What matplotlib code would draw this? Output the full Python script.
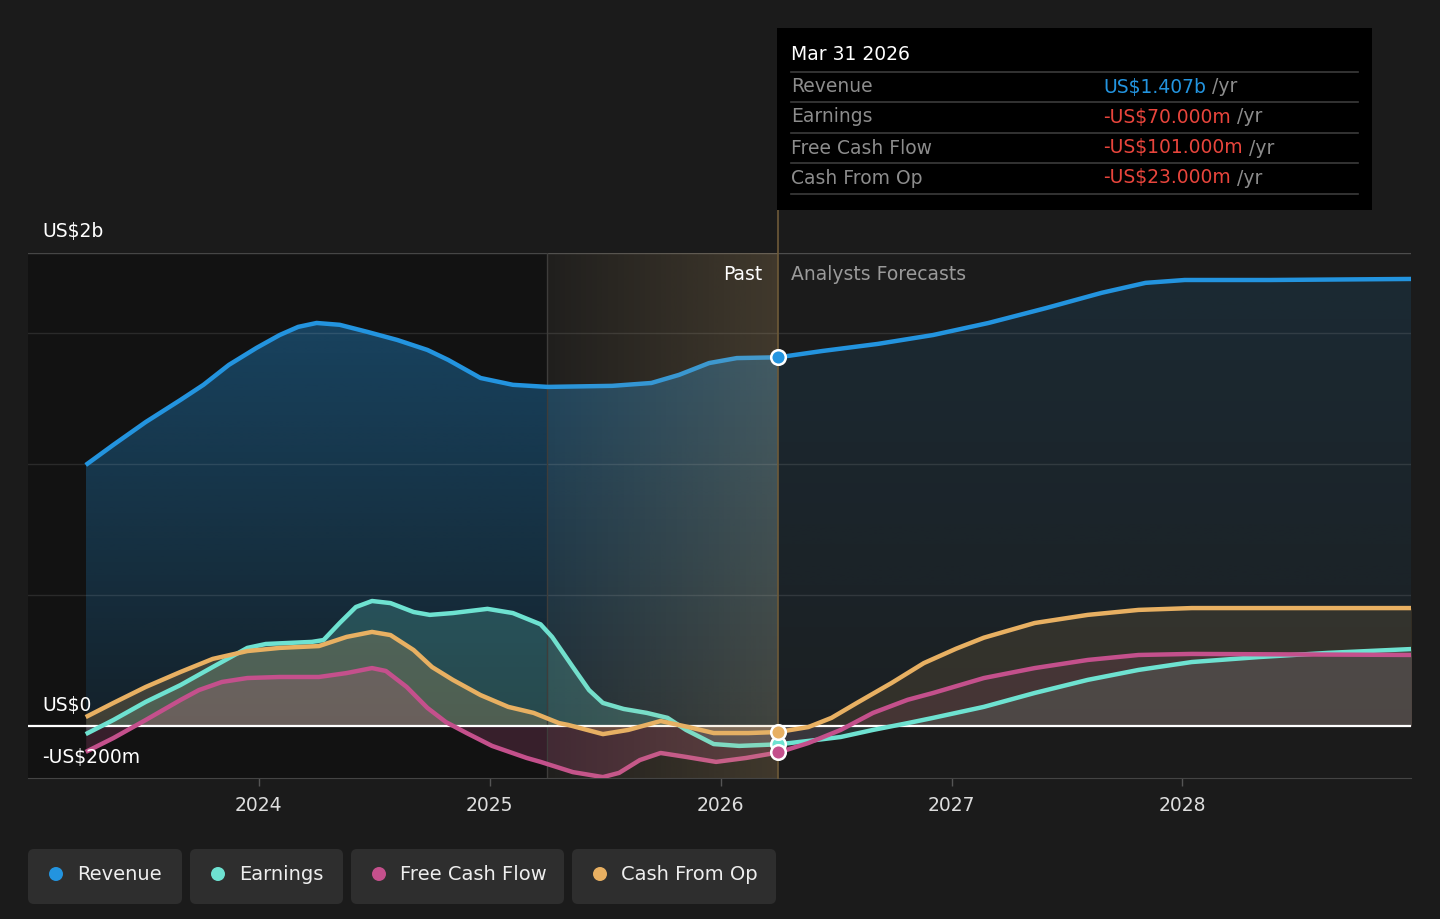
import numpy as np
import matplotlib.pyplot as plt
import matplotlib.colors as mcolors
from matplotlib.patches import FancyBboxPatch, Rectangle, Circle
from matplotlib.lines import Line2D
from matplotlib.transforms import IdentityTransform

### data, US$ m, x in decimal years
NOW = 2026.25

rev_x = [2023.25, 2023.37, 2023.51, 2023.66, 2023.76, 2023.87, 2023.99, 2024.09, 2024.17, 2024.25,
         2024.35, 2024.47, 2024.60, 2024.73, 2024.82, 2024.96, 2025.10, 2025.25, 2025.53, 2025.70,
         2025.82, 2025.95, 2026.07, 2026.25, 2026.44, 2026.68, 2026.92, 2027.16, 2027.41, 2027.65,
         2027.84, 2028.01, 2028.38, 2029.0]
rev_y = [996, 1073, 1160, 1244, 1302, 1378, 1443, 1492, 1523, 1538,
         1531, 1504, 1473, 1435, 1397, 1328, 1302, 1294, 1298, 1309,
         1340, 1385, 1404, 1407, 1431, 1458, 1492, 1538, 1595, 1653,
         1691, 1702, 1702, 1706]

earn_x = [2023.25, 2023.37, 2023.51, 2023.66, 2023.80, 2023.95, 2024.03, 2024.23, 2024.28, 2024.35,
          2024.42, 2024.49, 2024.57, 2024.67, 2024.74, 2024.84, 2024.99, 2025.10, 2025.22, 2025.27,
          2025.36, 2025.43, 2025.49, 2025.58, 2025.68, 2025.77, 2025.85, 2025.97, 2026.08, 2026.25,
          2026.38, 2026.52, 2026.66, 2026.81, 2026.92, 2027.14, 2027.36, 2027.59, 2027.81, 2028.04,
          2028.33, 2028.63, 2029.0]
earn_y = [-31, 23, 92, 156, 225, 298, 313, 321, 328, 393,
          454, 477, 469, 435, 424, 431, 447, 431, 388, 340,
          225, 137, 88, 65, 50, 31, -15, -69, -76, -70,
          -57, -42, -15, 11, 31, 73, 126, 176, 214, 244,
          263, 279, 294]

fcf_x = [2023.25, 2023.37, 2023.51, 2023.66, 2023.74, 2023.84, 2023.95, 2024.09, 2024.26, 2024.38,
         2024.49, 2024.55, 2024.64, 2024.73, 2024.81, 2024.90, 2025.01, 2025.16, 2025.22, 2025.36,
         2025.49, 2025.56, 2025.65, 2025.74, 2025.85, 2025.98, 2026.11, 2026.25, 2026.38, 2026.52,
         2026.66, 2026.81, 2026.92, 2027.14, 2027.36, 2027.59, 2027.81, 2028.04, 2029.0]
fcf_y = [-99, -46, 23, 99, 137, 168, 183, 187, 187, 202,
         221, 210, 149, 69, 15, -27, -76, -122, -137, -176,
         -195, -179, -130, -103, -118, -137, -122, -101, -65, -15,
         50, 100, 126, 183, 221, 252, 271, 275, 271]

cfo_x = [2023.25, 2023.37, 2023.51, 2023.66, 2023.80, 2023.95, 2024.09, 2024.26, 2024.38, 2024.49,
         2024.57, 2024.67, 2024.75, 2024.84, 2024.96, 2025.08, 2025.19, 2025.30, 2025.34, 2025.49,
         2025.60, 2025.74, 2025.86, 2025.97, 2026.12, 2026.25, 2026.38, 2026.48, 2026.59, 2026.74,
         2026.88, 2027.02, 2027.14, 2027.36, 2027.59, 2027.81, 2028.04, 2029.0]
cfo_y = [34, 88, 149, 206, 256, 286, 298, 305, 340, 359,
         347, 290, 225, 176, 118, 73, 50, 11, 4, -31,
         -15, 19, -4, -27, -27, -23, -4, 31, 88, 164,
         240, 295, 337, 393, 424, 443, 450, 450]

years = [2024, 2025, 2026, 2027, 2028]
year_labels = ['2024', '2025', '2026', '2027', '2028']

tip_date = 'Mar 31 2026'
tip_rows = ['Revenue', 'Earnings', 'Free Cash Flow', 'Cash From Op']
tip_values = ['US$1.407b', '-US$70.000m', '-US$101.000m', '-US$23.000m']

### colors
BG = '#1b1b1b'
C_REV = '#2394df'
C_EARN = '#6ee2d1'
C_FCF = '#c4508c'
C_CFO = '#e8b062'

W, H = 1440, 919
def fx(px):
    return px / W
def fy(py):
    return 1 - py / H

def split(xs, ys):
    xs, ys = np.asarray(xs), np.asarray(ys)
    p = xs <= NOW
    f = xs >= NOW
    return (xs[p], ys[p]), (xs[f], ys[f])

fig = plt.figure(figsize=(14.4, 9.19), dpi=100, facecolor=BG)
ax = fig.add_axes([fx(28), fy(778.4), (1411 - 28) / W, (778.4 - 253) / H])
ax.set_facecolor('none')
XMIN, XMAX = 2023.0, 2028.99
YMIN, YMAX = -200, 1805

# dark past area
ax.axvspan(XMIN, 2025.25, color='#121212', lw=0, zorder=0)

def gradient_fill(x, y, color, a_top, a_bot, zorder):
    poly = ax.fill_between(x, 0, y, facecolor='none', edgecolor='none')
    path = poly.get_paths()[0]
    rgba = np.zeros((256, 1, 4))
    rgba[..., :3] = mcolors.to_rgb(color)
    rgba[..., 3] = np.linspace(a_top, a_bot, 256)[:, None]
    im = ax.imshow(rgba, extent=[min(x), max(x), 0, YMAX], origin='upper',
                   aspect='auto', zorder=zorder, interpolation='bilinear')
    im.set_clip_path(path, transform=ax.transData)

series = [(rev_x, rev_y, C_REV), (earn_x, earn_y, C_EARN),
          (fcf_x, fcf_y, C_FCF), (cfo_x, cfo_y, C_CFO)]

(rp, rf) = split(rev_x, rev_y)
gradient_fill(rp[0], rp[1], C_REV, 0.42, 0.12, 1)
gradient_fill(rf[0], rf[1], C_REV, 0.13, 0.04, 1)

for xs, ys, c in series[1:]:
    (px_, py_), (fx_, fy_) = split(xs, ys)
    ax.fill_between(px_, 0, py_, color=c, alpha=0.21, lw=0, zorder=2)
    ax.fill_between(fx_, 0, fy_, color=c, alpha=0.12, lw=0, zorder=2)

# grid
for v in [500, 1000, 1500]:
    ax.axhline(v, color='white', alpha=0.1, lw=1, zorder=2.5)
ax.axhline(YMAX - 1, color='white', alpha=0.22, lw=1, zorder=2.5)
ax.axhline(0, color='white', lw=1.6, zorder=3)
ax.axvline(2025.25, color='#3a3a3a', lw=1, zorder=2.5)

# lines
for xs, ys, c in series:
    ax.plot(xs, ys, color=c, lw=3.2, solid_joinstyle='round', solid_capstyle='butt', zorder=4)

# light band over the last past year
band = np.zeros((1, 256, 4))
band[..., :3] = mcolors.to_rgb('#d9b273')
band[..., 3] = np.linspace(0.03, 0.2, 256)[None, :]
ax.imshow(band, extent=[2025.25, NOW, YMIN, YMAX], aspect='auto', zorder=5,
          interpolation='bilinear')

ax.axvline(NOW, ymin=0, ymax=(778.4 - 210) / (778.4 - 253), color='#6e5a38',
           lw=1.2, zorder=5, clip_on=False)

# current markers
for xs, ys, c in [series[0], series[1], series[3], series[2]]:
    v = ys[list(xs).index(NOW)]
    ax.plot([NOW], [v], 'o', ms=10.5, mfc=c, mec='white', mew=1.8, zorder=8, clip_on=False)

ax.set_xlim(XMIN, XMAX)
ax.set_ylim(YMIN, YMAX)
ax.set_yticks([])
ax.set_xticks(years)
ax.set_xticklabels(year_labels)
ax.tick_params(axis='x', colors='#555555', length=6, width=1, pad=7,
               labelsize=13.5, labelcolor='#dddddd')
for s in ['top', 'left', 'right']:
    ax.spines[s].set_visible(False)
ax.spines['bottom'].set_color('#444444')

# axis labels
fig.text(fx(42), fy(232), 'US$2b', color='white', fontsize=13.5, va='center', ha='left')
fig.text(fx(42), fy(706), 'US$0', color='white', fontsize=13.5, va='center', ha='left')
fig.text(fx(42), fy(758), '-US$200m', color='white', fontsize=13.5, va='center', ha='left')
fig.text(fx(762), fy(274), 'Past', color='white', fontsize=13.5, va='center', ha='right')
fig.text(fx(791), fy(274), 'Analysts Forecasts', color='#9a9a9a', fontsize=13.5, va='center', ha='left')

# tooltip
fig.add_artist(Rectangle((fx(777), fy(210)), (1372 - 777) / W, (210 - 28) / H,
                         transform=fig.transFigure, facecolor='black', edgecolor='none', zorder=20))
fig.text(fx(791), fy(55), tip_date, color='white', fontsize=13.5, va='center', zorder=21)
for yy in [72, 102, 133, 163, 194]:
    fig.add_artist(Line2D([fx(791), fx(1358)], [fy(yy), fy(yy)], color='#3c3c3c', lw=1.2,
                          transform=fig.transFigure, zorder=21))
val_colors = [C_REV, '#e8453c', '#e8453c', '#e8453c']
for i, (lab, val) in enumerate(zip(tip_rows, tip_values)):
    yy = [87, 117, 148, 178][i]
    fig.text(fx(791), fy(yy), lab, color='#8c8c8c', fontsize=13.5, va='center', zorder=21)
    t = fig.text(fx(1103), fy(yy), val, color=val_colors[i], fontsize=13.5, va='center', zorder=21)
    fig.add_artist(plt.Annotation(' /yr', xy=(1, 0.5), xycoords=t, va='center', ha='left',
                                  color='#8c8c8c', fontsize=13.5, zorder=21))

# legend
legend_items = [('Revenue', C_REV, 28, 182), ('Earnings', C_EARN, 190, 343),
                ('Free Cash Flow', C_FCF, 351, 564), ('Cash From Op', C_CFO, 572, 776)]
for name, c, x0, x1 in legend_items:
    fig.add_artist(FancyBboxPatch((x0, H - 904), x1 - x0, 55, boxstyle='round,pad=0,rounding_size=6',
                                  transform=IdentityTransform(), facecolor='#2e2e2e', edgecolor='none'))
    fig.add_artist(Circle((x0 + 28, H - 874), 7, transform=IdentityTransform(), facecolor=c,
                          edgecolor='none'))
    fig.text(fx(x0 + 49), fy(874), name, color='#eeeeee', fontsize=14, va='center', ha='left')

fig.savefig('out.png', dpi=100, facecolor=BG)
